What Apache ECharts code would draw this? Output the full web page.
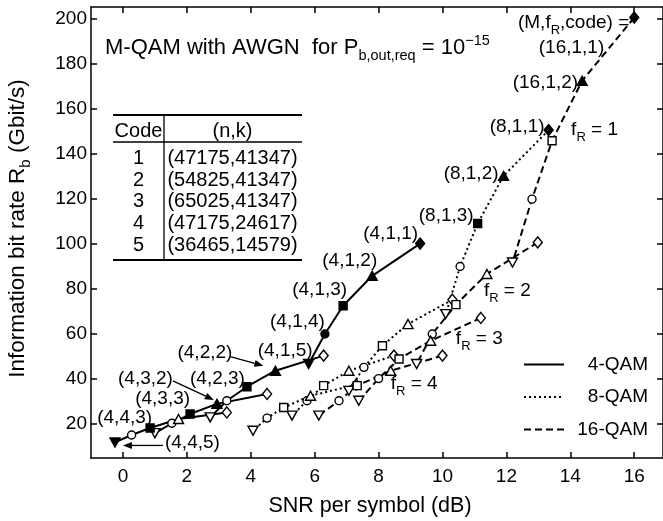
<!DOCTYPE html>
<html>
<head>
<meta charset="utf-8">
<script src="https://cdn.jsdelivr.net/npm/echarts@6/dist/echarts.min.js"></script>
<style>html,body{margin:0;padding:0;background:#fff}#c{width:663px;height:521px}</style>
</head>
<body>
<div id="c"></div>
<script>
// ---------------- data ----------------
const codeList = [1, 2, 3, 4, 5];
const frList = [1, 2, 3, 4];

// SNR per symbol (dB), rows = fR 1..4, columns = code 1..5
const snr4QAM = [[9.30, 7.80, 6.89, 6.32, 5.81], [6.28, 4.77, 3.88, 3.25, 2.73], [4.51, 2.94, 2.10, 1.53, 1.00], [3.25, 1.74, 0.85, 0.27, -0.25]];
const rate4QAM = [[100.1, 85.8, 72.5, 60.0, 46.7], [50.4, 43.7, 36.6, 30.4, 23.0], [33.4, 29.0, 24.5, 20.4, 16.0], [25.2, 22.3, 18.3, 15.2, 11.9]];

const snr8QAM = [[13.32, 11.91, 11.10, 10.55, 10.10], [10.31, 8.92, 8.12, 7.54, 7.07], [8.48, 7.07, 6.28, 5.76, 5.29], [7.30, 5.87, 5.03, 4.51, 4.07]];
const rate8QAM = [[150.4, 130.1, 109.0, 89.9, 68.8], [75.2, 64.4, 54.8, 45.2, 34.8], [50.4, 43.7, 37.1, 30.4, 23.8], [37.5, 32.6, 27.4, 22.7, 17.1]];

const snr16QAM = [[16.00, 14.37, 13.43, 12.80, 12.19], [12.98, 11.39, 10.42, 9.68, 9.19], [11.20, 9.63, 8.64, 8.00, 7.38], [10.00, 8.38, 7.33, 6.76, 6.13]];
const rate16QAM = [[200.3, 172.3, 145.7, 119.8, 91.7], [100.6, 86.6, 73.0, 60.0, 46.7], [67.1, 57.0, 48.9, 40.2, 30.4], [50.4, 43.7, 37.1, 30.4, 23.8]];

const xTicks = [0, 2, 4, 6, 8, 10, 12, 14, 16];
const yTicks = [20, 40, 60, 80, 100, 120, 140, 160, 180, 200];

const tableCodes = ['1', '2', '3', '4', '5'];
const tableNK = ['(47175,41347)', '(54825,41347)', '(65025,41347)', '(47175,24617)', '(36465,14579)'];

// points labelled (M,fR,code) in the figure (drawn with filled markers)
const labelledPoints = ['4,1,1', '4,1,2', '4,1,3', '4,1,4', '4,1,5', '4,2,2', '4,2,3', '4,3,2', '4,3,3', '4,4,3', '4,4,5', '8,1,1', '8,1,2', '8,1,3', '16,1,1', '16,1,2'];

// ---------------- chart ----------------
const chart = echarts.init(document.getElementById('c'), null, { renderer: 'canvas' });
const FONT = '"Liberation Sans", Arial, Helvetica, sans-serif';
const BLACK = '#000';

const curves = [
  { M: 4, name: '4-QAM', snr: snr4QAM, rate: rate4QAM, dash: 'solid' },
  { M: 8, name: '8-QAM', snr: snr8QAM, rate: rate8QAM, dash: [2, 3] },
  { M: 16, name: '16-QAM', snr: snr16QAM, rate: rate16QAM, dash: [7, 4] }
];
const curveByM = {};
curves.forEach(c => { curveByM[c.M] = c; });

const symbolFor = { 1: 'diamond', 2: 'triangle', 3: 'rect', 4: 'circle', 5: 'triangle' };
const sizeFor = { 1: [9, 11], 2: [10, 9], 3: 8, 4: 8, 5: [10, 9] };

const series = [];
curves.forEach(c => {
  frList.forEach((fr, fi) => {
    const data = codeList.map((code, i) => {
      const key = c.M + ',' + fr + ',' + code;
      const filled = labelledPoints.indexOf(key) >= 0;
      return {
        value: [c.snr[fi][i], c.rate[fi][i]],
        symbol: symbolFor[code],
        symbolRotate: code === 5 ? 180 : 0,
        symbolSize: sizeFor[code],
        itemStyle: { color: filled ? BLACK : '#fff', borderColor: BLACK, borderWidth: 1.4 }
      };
    });
    series.push({
      type: 'line', name: c.name + ' fR=' + fr, data: data,
      showAllSymbol: true, lineStyle: { color: BLACK, width: 2, type: c.dash },
      itemStyle: { color: BLACK }, emphasis: { disabled: true }, silent: true, animation: false, z: 3
    });
  });
  // legend entry
  series.push({
    type: 'line', name: c.name, data: [], symbol: 'none',
    lineStyle: { color: BLACK, width: 2, type: c.dash }, itemStyle: { color: BLACK }, animation: false
  });
});

const axisLineStyle = { color: BLACK, width: 1.5 };
const tickStyle = { color: BLACK, width: 1.5 };

const option = {
  backgroundColor: '#fff',
  animation: false,
  title: {
    text: '{m|M-QAM with AWGN  for P}{s|b,out,req}{m| = 10}{p|\u221215}',
    left: 105, top: 33, padding: 0,
    textStyle: {
      fontWeight: 'normal',
      rich: {
        m: { fontSize: 22, lineHeight: 30, fontFamily: FONT, fontWeight: 'normal', color: BLACK },
        s: { fontSize: 14.5, lineHeight: 14, verticalAlign: 'bottom', fontFamily: FONT, fontWeight: 'normal', color: BLACK },
        p: { fontSize: 14.5, lineHeight: 22, verticalAlign: 'top', fontFamily: FONT, fontWeight: 'normal', color: BLACK }
      }
    }
  },
  legend: {
    data: ['4-QAM', '8-QAM', '16-QAM'], orient: 'vertical', left: 523, top: 355,
    itemWidth: 40, itemHeight: 20, itemGap: 13.5, selectedMode: false, padding: 0,
    itemStyle: { color: 'rgba(0,0,0,0)', borderColor: 'rgba(0,0,0,0)', borderWidth: 0 },
    formatter: n => '{t|' + n + '}',
    textStyle: { rich: { t: { width: 79, align: 'right', fontSize: 19, fontFamily: FONT, color: BLACK } } }
  },
  grid: { left: 91, right: 0, top: 7, bottom: 63, containLabel: false, outerBoundsMode: 'none' },
  xAxis: [
    {
      type: 'value', min: -1, max: 16.9, position: 'bottom',
      axisLine: { onZero: false, lineStyle: axisLineStyle },
      axisTick: { inside: true, length: 6, customValues: xTicks, lineStyle: tickStyle },
      axisLabel: { customValues: xTicks, color: BLACK, fontSize: 19, fontFamily: FONT, margin: 9 },
      splitLine: { show: false },
      name: 'SNR per symbol (dB)', nameLocation: 'middle', nameGap: 37,
      nameTextStyle: { fontSize: 21.5, fontFamily: FONT, color: BLACK, padding: [0, 14, 0, 0] }
    },
    {
      type: 'value', min: -1, max: 16.9, position: 'top',
      axisLine: { onZero: false, lineStyle: axisLineStyle },
      axisTick: { inside: true, length: 6, customValues: xTicks, lineStyle: tickStyle },
      axisLabel: { show: false }, splitLine: { show: false }
    }
  ],
  yAxis: [
    {
      type: 'value', min: 5, max: 205, position: 'left',
      axisLine: { onZero: false, lineStyle: axisLineStyle },
      axisTick: { inside: true, length: 6, customValues: yTicks, lineStyle: tickStyle },
      axisLabel: { customValues: yTicks, color: BLACK, fontSize: 19, fontFamily: FONT, margin: 4 },
      splitLine: { show: false },
      name: '{m|Information bit rate R}{s|b}{m| (Gbit/s)}', nameLocation: 'middle', nameGap: 58,
      nameTextStyle: {
        padding: [0, 0, 0, 8],
        rich: {
          m: { fontSize: 22.5, lineHeight: 30, fontFamily: FONT, color: BLACK },
          s: { fontSize: 15, lineHeight: 15, verticalAlign: 'bottom', fontFamily: FONT, color: BLACK }
        }
      }
    },
    {
      type: 'value', min: 5, max: 205, position: 'right',
      axisLine: { onZero: false, lineStyle: axisLineStyle },
      axisTick: { inside: true, length: 6, customValues: yTicks, lineStyle: tickStyle },
      axisLabel: { show: false }, splitLine: { show: false }
    }
  ],
  series: series
};
chart.setOption(option);

// ---------------- annotations ----------------
function pointPx(key) {
  const p = key.split(',').map(Number);
  const c = curveByM[p[0]];
  const fi = frList.indexOf(p[1]);
  const i = codeList.indexOf(p[2]);
  return chart.convertToPixel({ xAxisIndex: 0, yAxisIndex: 0 }, [c.snr[fi][i], c.rate[fi][i]]);
}

const labelRich = {
  i: { fontSize: 19, lineHeight: 28, fontFamily: FONT, color: BLACK },
  s: { fontSize: 13, lineHeight: 13, verticalAlign: 'bottom', fontFamily: FONT, color: BLACK }
};
const annotations = [
  { at: '4,1,1', text: '(4,1,1)', dx: -2, dy: -10, align: 'right' },
  { at: '4,1,2', text: '(4,1,2)', dx: 5, dy: -15, align: 'right' },
  { at: '4,1,3', text: '(4,1,3)', dx: 4, dy: -16, align: 'right' },
  { at: '4,1,4', text: '(4,1,4)', dx: 0, dy: -12, align: 'right' },
  { at: '4,1,5', text: '(4,1,5)', dx: 4, dy: -13, align: 'right' },
  { at: '4,2,2', text: '(4,2,2)', dx: -43, dy: -18, align: 'right' },
  { at: '4,2,3', text: '(4,2,3)', dx: -2, dy: -8, align: 'right' },
  { at: '4,3,2', text: '(4,3,2)', dx: -44, dy: -25, align: 'right' },
  { at: '4,3,3', text: '(4,3,3)', dx: 0, dy: -15, align: 'right' },
  { at: '4,4,3', text: '(4,4,3)', dx: 2, dy: -10, align: 'right' },
  { at: '4,4,5', text: '(4,4,5)', dx: 50, dy: 0, align: 'left' },
  { at: '8,1,1', text: '(8,1,1)', dx: -4, dy: -3, align: 'right' },
  { at: '8,1,2', text: '(8,1,2)', dx: -5, dy: -2, align: 'right' },
  { at: '8,1,3', text: '(8,1,3)', dx: -4, dy: -8, align: 'right' },
  { at: '16,1,1', text: '(16,1,1)', dx: -30, dy: 30, align: 'right' },
  { at: '16,1,1', text: '{i|(M,f}{s|R}{i|,code) =}', dx: -5, dy: 5, align: 'right' },
  { at: '16,1,2', text: '(16,1,2)', dx: -4, dy: 2, align: 'right' },
  { at: '16,1,3', text: '{i|f}{s|R}{i| = 1}', dx: 19, dy: -11, align: 'left' },
  { at: '16,2,2', text: '{i|f}{s|R}{i| = 2}', dx: -3, dy: 17, align: 'left' },
  { at: '16,3,1', text: '{i|f}{s|R}{i| = 3}', dx: -25, dy: 21, align: 'left' },
  { at: '16,4,2', text: '{i|f}{s|R}{i| = 4}', dx: 0, dy: 13, align: 'left' }
];
const arrows = [
  { at: '4,2,2', tail: [-45, -14], tip: [-12, -5] },
  { at: '4,3,2', tail: [-44, -23], tip: [-3, -4] },
  { at: '4,4,5', tail: [48, 3], tip: [8, 3] }
];

const graphics = [];
annotations.forEach(a => {
  const p = pointPx(a.at);
  const txt = a.text.charAt(0) === '{' ? a.text : '{i|' + a.text + '}';
  graphics.push({
    type: 'text', x: p[0] + a.dx, y: p[1] + a.dy, silent: true, z: 10,
    style: { text: txt, rich: labelRich, align: a.align, verticalAlign: 'middle', fill: BLACK }
  });
});
arrows.forEach(a => {
  const p = pointPx(a.at);
  const x1 = p[0] + a.tail[0], y1 = p[1] + a.tail[1];
  const x2 = p[0] + a.tip[0], y2 = p[1] + a.tip[1];
  const ang = Math.atan2(y2 - y1, x2 - x1);
  const L = 9, W = 3.5;
  const bx = x2 - L * Math.cos(ang), by = y2 - L * Math.sin(ang);
  graphics.push({ type: 'line', silent: true, z: 10, shape: { x1: x1, y1: y1, x2: bx, y2: by }, style: { stroke: BLACK, lineWidth: 1.3 } });
  graphics.push({
    type: 'polygon', silent: true, z: 10,
    shape: { points: [[x2, y2], [bx - W * Math.sin(ang), by + W * Math.cos(ang)], [bx + W * Math.sin(ang), by - W * Math.cos(ang)]] },
    style: { fill: BLACK }
  });
});

// table
const tblLeft = 113, tblRight = 302, tblDiv = 164, tblTop = 115, tblHead = 142, tblBottom = 260;
const rowY0 = 158.3, rowStep = 21.7;
graphics.push({ type: 'line', silent: true, shape: { x1: tblLeft, y1: tblTop, x2: tblRight, y2: tblTop }, style: { stroke: BLACK, lineWidth: 1.8 } });
graphics.push({ type: 'line', silent: true, shape: { x1: tblLeft, y1: tblHead, x2: tblRight, y2: tblHead }, style: { stroke: BLACK, lineWidth: 1.3 } });
graphics.push({ type: 'line', silent: true, shape: { x1: tblLeft, y1: tblBottom, x2: tblRight, y2: tblBottom }, style: { stroke: BLACK, lineWidth: 1.8 } });
graphics.push({ type: 'line', silent: true, shape: { x1: tblDiv, y1: tblTop, x2: tblDiv, y2: tblBottom }, style: { stroke: BLACK, lineWidth: 1.3 } });
const tblFont = '20px ' + FONT;
graphics.push({ type: 'text', silent: true, x: 138.5, y: 131, style: { text: 'Code', font: tblFont, fill: BLACK, align: 'center', verticalAlign: 'middle' } });
graphics.push({ type: 'text', silent: true, x: 232.5, y: 131, style: { text: '(n,k)', font: tblFont, fill: BLACK, align: 'center', verticalAlign: 'middle' } });
tableCodes.forEach((c, i) => {
  graphics.push({ type: 'text', silent: true, x: 138.5, y: rowY0 + i * rowStep, style: { text: c, font: tblFont, fill: BLACK, align: 'center', verticalAlign: 'middle' } });
  graphics.push({ type: 'text', silent: true, x: 232.5, y: rowY0 + i * rowStep, style: { text: tableNK[i], font: tblFont, fill: BLACK, align: 'center', verticalAlign: 'middle' } });
});

chart.setOption({ graphic: graphics });
</script>
</body>
</html>
